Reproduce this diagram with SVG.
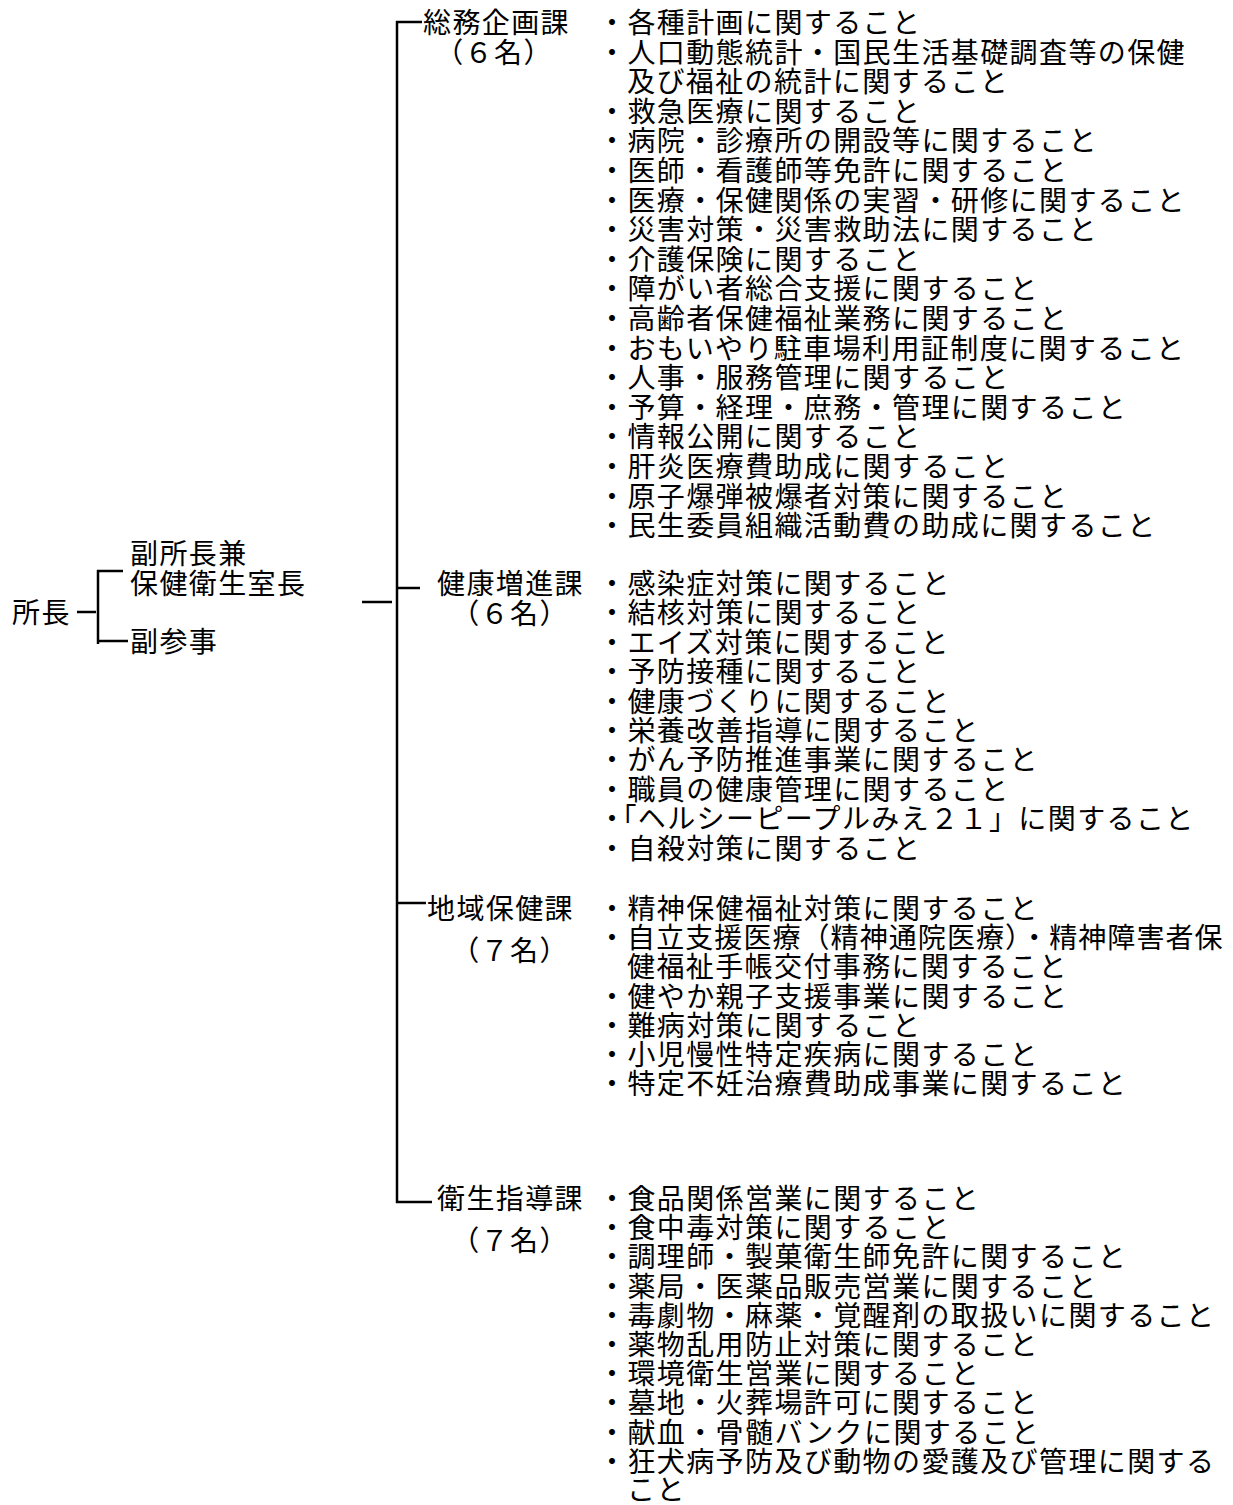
<svg xmlns="http://www.w3.org/2000/svg" width="1233" height="1505" viewBox="0 0 1233 1505">
<style>
text{font-family:"Noto Sans CJK JP","Noto Sans CJK SC",sans-serif;font-size:28px;letter-spacing:1.4px;fill:#000}
.c{text-anchor:middle}
.ln{stroke:#000;stroke-width:2.5;fill:none}
</style>
<rect width="1233" height="1505" fill="#fff"/>
<g id="connectors" class="ln">
<path d="M77 612H96"/>
<path d="M98 570V644"/>
<path d="M97 571H123"/>
<path d="M97 641H128"/>
<path d="M362 602H392"/>
<path d="M397 21V1203"/>
<path d="M396 22H422"/>
<path d="M397 588H420"/>
<path d="M397 903H426"/>
<path d="M396 1202H432"/>
</g>
<g id="shocho"><text x="12" y="623">所長</text></g>
<g id="fukushocho"><text x="130" y="564">副所長兼</text><text x="130" y="594">保健衛生室長</text></g>
<g id="fukusanji"><text x="130" y="652">副参事</text></g>
<g id="somu">
<text x="423" y="33">総務企画課</text>
<text class="c" x="494" y="63">（６名）</text>
<text x="598" y="33">・各種計画に関すること</text>
<text x="598" y="62.6">・人口動態統計・国民生活基礎調査等の保健</text>
<text x="627" y="92.2">及び福祉の統計に関すること</text>
<text x="598" y="121.8">・救急医療に関すること</text>
<text x="598" y="151.4">・病院・診療所の開設等に関すること</text>
<text x="598" y="181">・医師・看護師等免許に関すること</text>
<text x="598" y="210.6">・医療・保健関係の実習・研修に関すること</text>
<text x="598" y="240.2">・災害対策・災害救助法に関すること</text>
<text x="598" y="269.8">・介護保険に関すること</text>
<text x="598" y="299.4">・障がい者総合支援に関すること</text>
<text x="598" y="329">・高齢者保健福祉業務に関すること</text>
<text x="598" y="358.6">・おもいやり駐車場利用証制度に関すること</text>
<text x="598" y="388.2">・人事・服務管理に関すること</text>
<text x="598" y="417.8">・予算・経理・庶務・管理に関すること</text>
<text x="598" y="447.4">・情報公開に関すること</text>
<text x="598" y="477">・肝炎医療費助成に関すること</text>
<text x="598" y="506.6">・原子爆弾被爆者対策に関すること</text>
<text x="598" y="536.2">・民生委員組織活動費の助成に関すること</text>
</g>
<g id="kenko">
<text x="437" y="594">健康増進課</text>
<text class="c" x="510" y="624">（６名）</text>
<text x="598" y="594">・感染症対策に関すること</text>
<text x="598" y="623.4">・結核対策に関すること</text>
<text x="598" y="652.8">・エイズ対策に関すること</text>
<text x="598" y="682.2">・予防接種に関すること</text>
<text x="598" y="711.6">・健康づくりに関すること</text>
<text x="598" y="741">・栄養改善指導に関すること</text>
<text x="598" y="770.4">・がん予防推進事業に関すること</text>
<text x="598" y="799.8">・職員の健康管理に関すること</text>
<text x="598" y="829.2">・<tspan dx="-5">「ヘルシーピープルみえ２１」に関すること</tspan></text>
<text x="598" y="858.6">・自殺対策に関すること</text>
</g>
<g id="chiiki">
<text x="427" y="919">地域保健課</text>
<text class="c" x="510" y="961">（７名）</text>
<text x="598" y="919">・精神保健福祉対策に関すること</text>
<text x="598" y="948.2" textLength="626" lengthAdjust="spacing">・自立支援医療（精神通院医療）・精神障害者保</text>
<text x="627" y="977.4">健福祉手帳交付事務に関すること</text>
<text x="598" y="1006.6">・健やか親子支援事業に関すること</text>
<text x="598" y="1035.8">・難病対策に関すること</text>
<text x="598" y="1065">・小児慢性特定疾病に関すること</text>
<text x="598" y="1094.2">・特定不妊治療費助成事業に関すること</text>
</g>
<g id="eisei">
<text x="437" y="1209">衛生指導課</text>
<text class="c" x="510" y="1251">（７名）</text>
<text x="598" y="1209">・食品関係営業に関すること</text>
<text x="598" y="1238.2">・食中毒対策に関すること</text>
<text x="598" y="1267.4">・調理師・製菓衛生師免許に関すること</text>
<text x="598" y="1296.6">・薬局・医薬品販売営業に関すること</text>
<text x="598" y="1325.8">・毒劇物・麻薬・覚醒剤の取扱いに関すること</text>
<text x="598" y="1355">・薬物乱用防止対策に関すること</text>
<text x="598" y="1384.2">・環境衛生営業に関すること</text>
<text x="598" y="1413.4">・墓地・火葬場許可に関すること</text>
<text x="598" y="1442.6">・献血・骨髄バンクに関すること</text>
<text x="598" y="1471.8">・狂犬病予防及び動物の愛護及び管理に関する</text>
<text x="627" y="1500">こと</text>
</g>
</svg>
